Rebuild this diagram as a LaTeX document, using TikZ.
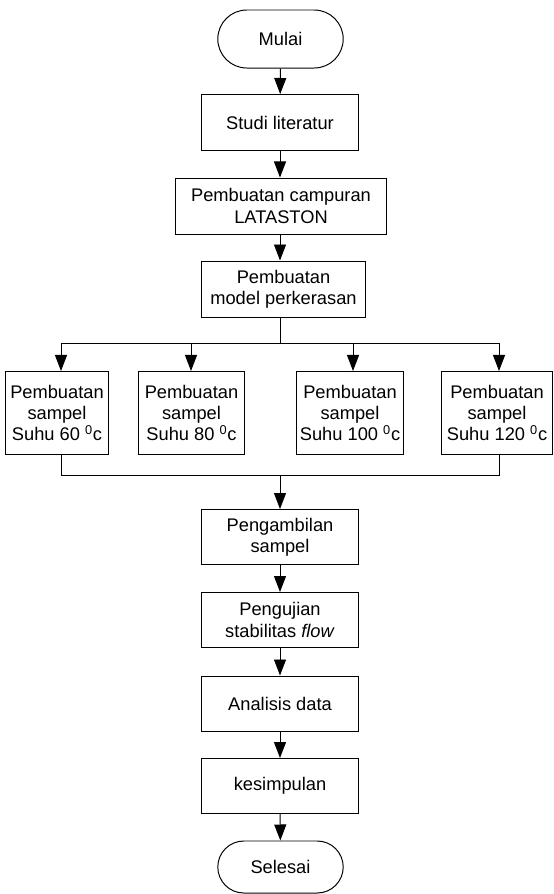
\documentclass[tikz,border=0pt]{standalone}
\usepackage{fontspec}
\setmainfont{Liberation Sans}
\usetikzlibrary{arrows.meta,shapes.misc}
\tikzset{
  box/.style={draw, line width=0.7pt, align=center, inner sep=2pt,
    minimum width=3.9cm, minimum height=1.4cm,
    font=\fontsize{13}{15}\selectfont},
  term/.style={box, rounded rectangle, minimum width=3.275cm},
  sampel/.style={box, minimum height=2.075cm},
  line/.style={line width=0.7pt},
  arr/.style={line, -{Triangle[length=0.4cm,width=0.3cm]}}
}

\begin{document}
\begin{tikzpicture}[x=0.025cm,y=-0.025cm]
  \useasboundingbox (0,0) rectangle (553,894);

  % main column
  \node[term, minimum height=1.45cm] (mulai) at (280.5,39) {Mulai};
  \node[box] (studi) at (280,122.5) {Studi literatur};
  \node[box, minimum width=5.25cm] (campur) at (281,206) {Pembuatan campuran\\LATASTON};
  \node[box, minimum width=4.075cm] (model) at (283.5,289) {Pembuatan\\model perkerasan};

  % samples
  \node[sampel, minimum width=2.55cm] (s60) at (57,413) {Pembuatan\\sampel\\Suhu 60 \textsuperscript{0}c};
  \node[sampel, minimum width=2.625cm] (s80) at (191.5,413) {Pembuatan\\sampel\\Suhu 80 \textsuperscript{0}c};
  \node[sampel, minimum width=2.65cm] (s100) at (350,413) {Pembuatan\\sampel\\Suhu 100 \textsuperscript{0}c};
  \node[sampel, minimum width=2.775cm] (s120) at (497,413) {Pembuatan\\sampel\\Suhu 120 \textsuperscript{0}c};

  \node[box, minimum height=1.375cm] (ambil) at (280,537) {Pengambilan\\sampel};
  \node[box, minimum height=1.375cm] (uji) at (280,620) {Pengujian\\stabilitas \textit{flow}};
  \node[box, minimum height=1.375cm] (analisis) at (280,703.5) {Analisis data};
  \node[box, minimum height=1.375cm] (simpul) at (280,786) {kesimpulan};
  \node[term, minimum height=1.3cm] (selesai) at (280.5,867) {Selesai};

  % connectors
  \draw[arr] (mulai) -- (studi);
  \draw[arr] (studi) -- (studi |- campur.north);
  \draw[arr] (studi |- campur.south) -- (studi |- model.north);

  \coordinate (split) at (280,343);
  \coordinate (t60) at (61,343);
  \coordinate (t80) at (191,343);
  \coordinate (t100) at (353,343);
  \coordinate (t120) at (499,343);
  \draw[line] (split |- model.south) -- (split);
  \draw[line] (t60) -- (t120);
  \draw[arr] (t60) -- (t60 |- s60.north);
  \draw[arr] (t80) -- (t80 |- s80.north);
  \draw[arr] (t100) -- (t100 |- s100.north);
  \draw[arr] (t120) -- (t120 |- s120.north);

  \coordinate (join) at (280,475);
  \draw[line] (t60 |- s60.south) -- (t60 |- join) -- (t120 |- join) -- (t120 |- s120.south);
  \draw[arr] (join) -- (ambil);

  \draw[arr] (ambil) -- (uji);
  \draw[arr] (uji) -- (analisis);
  \draw[arr] (analisis) -- (simpul);
  \draw[arr] (simpul) -- (selesai);
\end{tikzpicture}
\end{document}
